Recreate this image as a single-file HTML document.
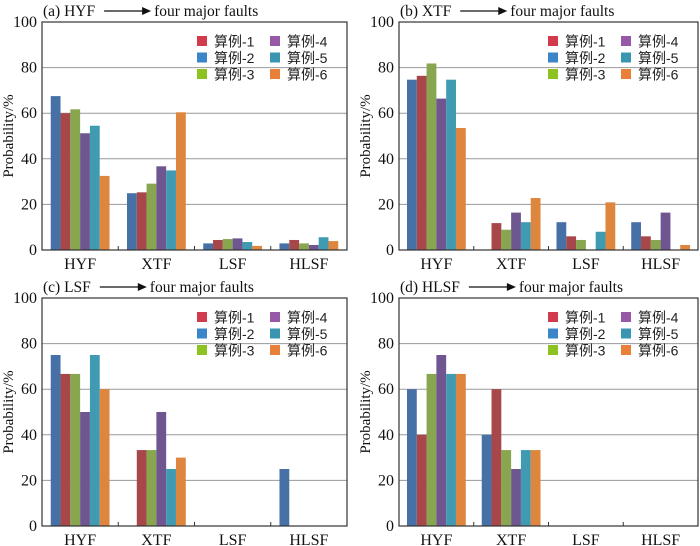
<!DOCTYPE html>
<html><head><meta charset="utf-8"><style>
body{margin:0;background:#fff;width:700px;height:546px;overflow:hidden}
svg{display:block}
text{font-family:"Liberation Serif","Noto Serif CJK SC",serif;fill:#111}
.leg{font-family:"Liberation Sans","Noto Sans CJK SC",sans-serif;font-size:14px;fill:#222}
</style></head><body>
<svg id="chart" width="700" height="546"></svg>
<script>
const categories = ["HYF","XTF","LSF","HLSF"];
const seriesNames = ["算例-1","算例-2","算例-3","算例-4","算例-5","算例-6"];
const yTicks = [0,20,40,60,80,100];
const panelTitles = ["(a) HYF","(b) XTF","(c) LSF","(d) HLSF"];
// values[panel][category] in bar order
const panelA = [[67.5,60,61.7,51.2,54.5,32.5],[24.9,25.3,29.1,36.7,34.9,60.4],[2.9,4.4,4.8,5.1,3.5,1.8],[2.9,4.4,2.9,2.2,5.6,3.9]];
const panelB = [[74.7,76.4,81.8,66.4,74.7,53.5],[0,11.8,8.9,16.4,12.2,22.8],[12.2,6,4.4,0,8,20.9],[12.2,6,4.4,16.4,0,2.2]];
const panelC = [[75,66.7,66.7,50,75,60],[0,33.3,33.3,50,25,30],[0,0,0,0,0,0],[25,0,0,0,0,0]];
const panelD = [[60,40,66.7,75,66.7,66.7],[40,60,33.3,25,33.3,33.3],[0,0,0,0,0,0],[0,0,0,0,0,0]];
const panelsData = [panelA,panelB,panelC,panelD];
const barColors = ["#4670a6","#a8474a","#88a54f","#6f5690","#3f9ab2","#de863d"];
const legColors = ["#d23b4c","#3a86c8","#8cc222","#9858a8","#3a95b0","#e8803a"];
const NS="http://www.w3.org/2000/svg";
const svg=document.getElementById('chart');
function mk(tag,attrs,parent,txt){const e=document.createElementNS(NS,tag);for(const k in attrs)e.setAttribute(k,attrs[k]);if(txt!==undefined)e.textContent=txt;(parent||svg).appendChild(e);return e;}
const boxes=[{x0:42,x1:347,y0:22,y1:250},{x0:399,x1:698,y0:22,y1:250},{x0:42,x1:347,y0:298,y1:526},{x0:399,x1:698,y0:298,y1:526}];
boxes.forEach((b,p)=>{
  const g=mk('g',{});
  
  
  const y=v=>b.y1-(v/100)*(b.y1-b.y0);
  const gw=(b.x1-b.x0)/4, bw=9.8, off=(gw-6*bw)/2;
  yTicks.forEach(t=>{
    if(t>0&&t<100){const l=mk('line',{x1:b.x0,x2:b.x1,y1:y(t),y2:y(t),stroke:'#999','stroke-width':1},g);}
    const tx=mk('text',{x:b.x0-5,y:y(t)+5,'text-anchor':'end','font-size':16},g,t);
    
  });
  panelsData[p].forEach((vals,c)=>{
    vals.forEach((v,s)=>{
      if(v<=0)return;
      const r=mk('rect',{x:b.x0+c*gw+off+s*bw,y:y(v),width:bw,height:b.y1-y(v),fill:barColors[s]},g);
      
      
    });
    const xl=mk('text',{x:b.x0+c*gw+gw/2,y:b.y1+19,'text-anchor':'middle','font-size':16},g,categories[c]);
    
    if(c>0)mk('line',{x1:b.x0+c*gw,x2:b.x0+c*gw,y1:b.y1,y2:b.y1-4,stroke:'#333'},g);
  });
  const fr=mk('rect',{x:b.x0,y:b.y0,width:b.x1-b.x0,height:b.y1-b.y0,fill:'none',stroke:'#333','stroke-width':1.2},g);
  
  const yt=mk('text',{x:0,y:0,'text-anchor':'middle','font-size':15,transform:`translate(${b.x0-29},${(b.y0+b.y1)/2}) rotate(-90)`},g,'Probability/%');
  
  const tt=mk('text',{x:b.x0+1,y:b.y0-6,'font-size':15.5},g,panelTitles[p]);
  
  const tw=tt.getComputedTextLength();
  const ax=b.x0+tw+10;
  mk('line',{x1:ax,x2:ax+40,y1:b.y0-11,y2:b.y0-11,stroke:'#111','stroke-width':1.3},g);
  mk('polygon',{points:`${ax+47},${b.y0-11} ${ax+38},${b.y0-15} ${ax+38},${b.y0-7}`,fill:'#111'},g);
  const t2=mk('text',{x:ax+50,y:b.y0-6,'font-size':15.5},g,'four major faults');
  
  const lx=b.x1-150, ly=b.y0+14;
  seriesNames.forEach((n,i)=>{
    const col=i<3?0:1,row=i%3;
    const lg=mk('g',{},g);
    
    mk('rect',{x:lx+col*73,y:ly+row*16.5,width:10,height:10,fill:legColors[i]},lg);
    mk('text',{x:lx+col*73+17,y:ly+row*16.5+10.5,class:'leg'},lg,n);
  });
});
</script>
</body></html>
